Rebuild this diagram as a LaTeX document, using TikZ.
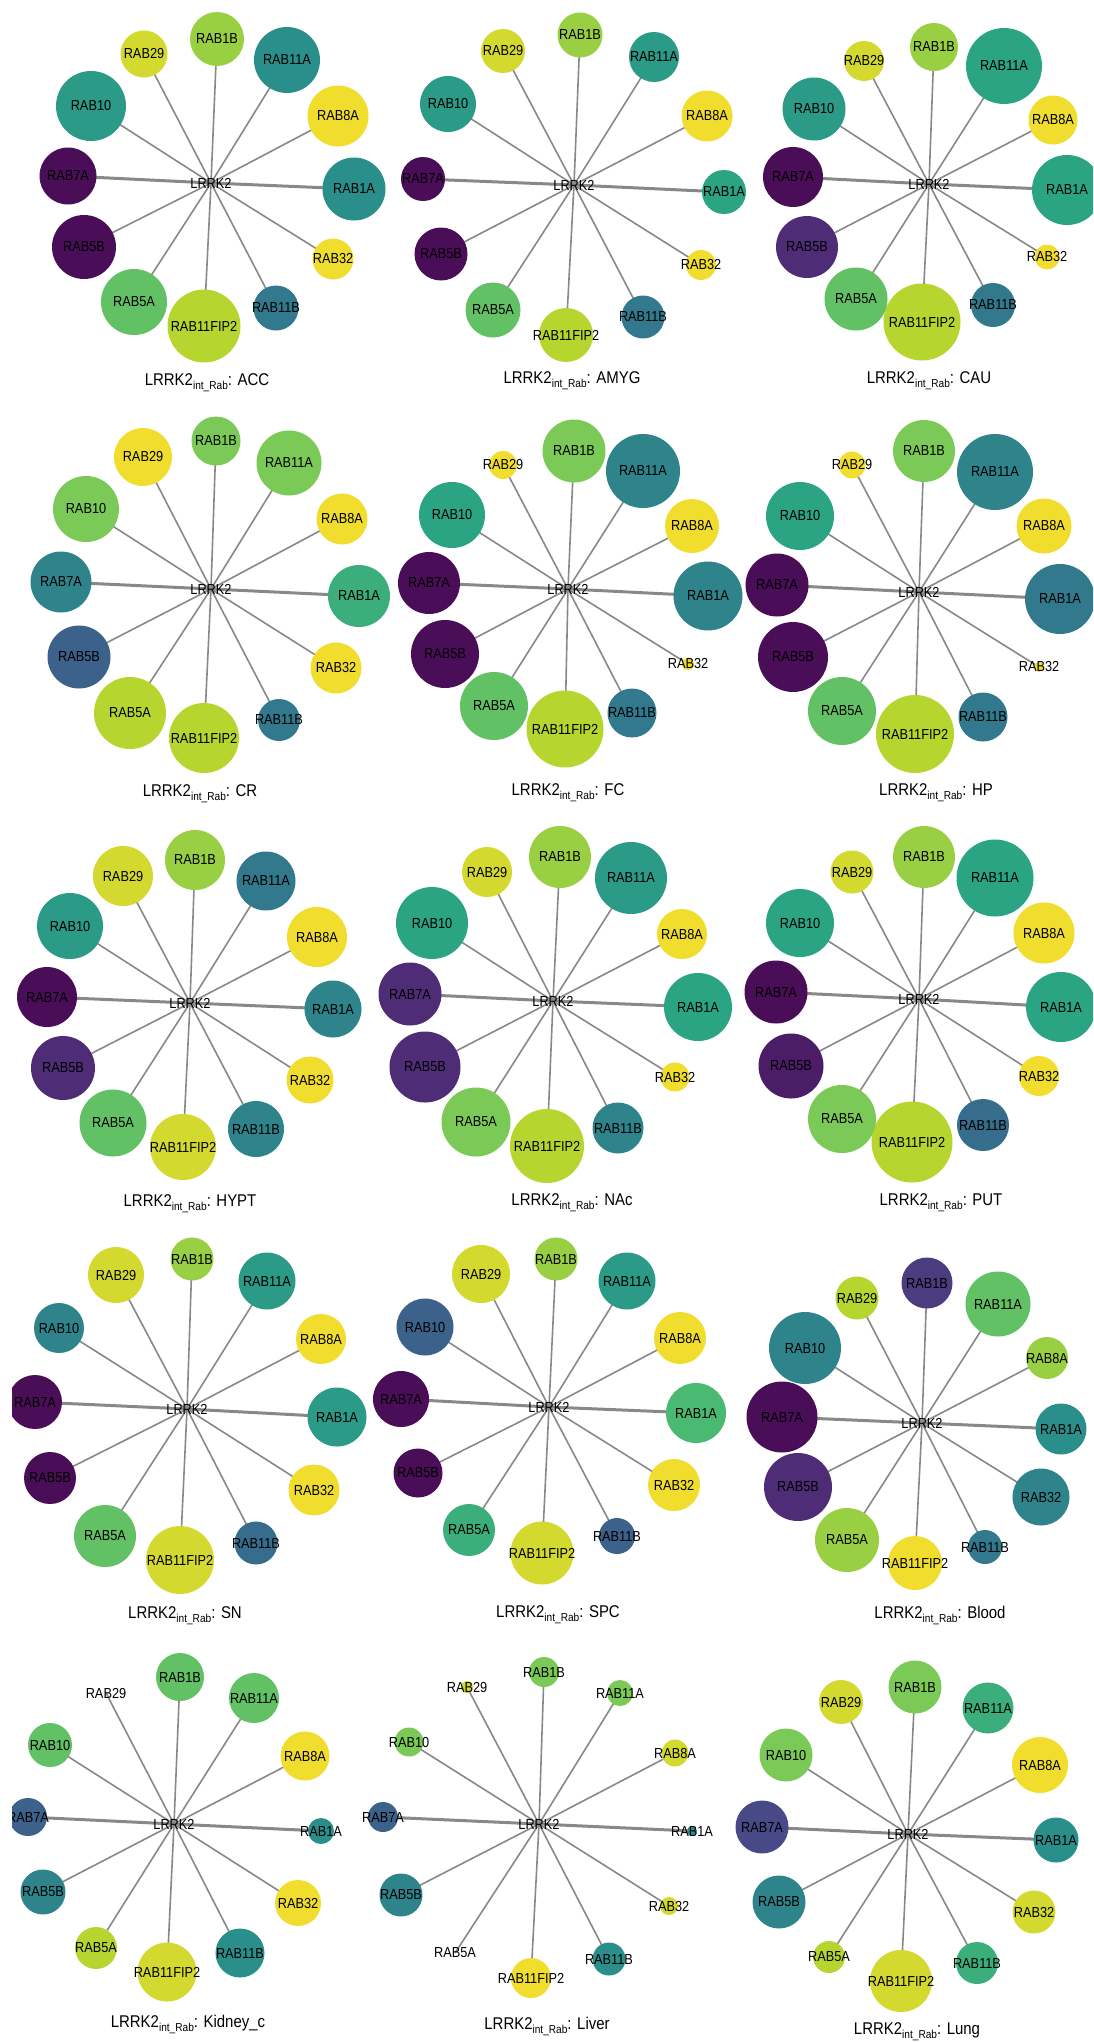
\documentclass[tikz,border=0pt]{standalone}
\usepackage{fontspec}
\setmainfont{Liberation Sans}[FakeStretch=0.88]
\usepackage{xcolor}
\usetikzlibrary{backgrounds}
% viridis stops
\definecolor{v0}{HTML}{440154}
\definecolor{v10}{HTML}{482475}
\definecolor{v20}{HTML}{414487}
\definecolor{v30}{HTML}{355F8D}
\definecolor{v40}{HTML}{2A788E}
\definecolor{v50}{HTML}{21918C}
\definecolor{v60}{HTML}{22A884}
\definecolor{v70}{HTML}{44BF70}
\definecolor{v80}{HTML}{7AD151}
\definecolor{v90}{HTML}{BDDF26}
\definecolor{v100}{HTML}{FDE725}
\colorlet{v5}{v0!50!v10}
\colorlet{v15}{v10!50!v20}
\colorlet{v35}{v30!50!v40}
\colorlet{v45}{v40!50!v50}
\colorlet{v55}{v50!50!v60}
\colorlet{v65}{v60!50!v70}
\colorlet{v75}{v70!50!v80}
\colorlet{v85}{v80!50!v90}
\colorlet{v95}{v90!50!v100}
\definecolor{linkgray}{HTML}{888888}
\tikzset{%
rab/.style={circle,inner sep=0pt,draw=none},
rabname/.style={inner sep=0pt,font=\fontsize{14.5}{15}\selectfont},
hub/.style={inner sep=0pt,font=\fontsize{14.5}{15}\selectfont},
link/.style={draw=linkgray},
tissue/.style={inner sep=1pt,font=\fontsize{17}{18}\selectfont}
}
% #1 id, #2 hub position, #3 caption position, #4 tissue, #5 partners
\newcommand{\starpanel}[5]{%
  \node[hub] (#1) at (#2) {LRRK2};
  \foreach \g/\px/\py/\d/\c/\w in {#5}{
    \node[rab,minimum size=\d pt,fill=\c!90!gray] (#1\g) at (\px,\py) {};
    \node[rabname] at (#1\g.center) {\g};
    \begin{pgfonlayer}{background}
      \draw[link,line width=\w pt] (#1.center) -- (#1\g.center);
    \end{pgfonlayer}
  }
  \node[tissue] (#1cap) at (#3) {LRRK2\raisebox{-4pt}{\fontsize{11.5}{12}\selectfont int\_Rab}: #4};
}

\begin{document}
\begin{tikzpicture}[x=1pt,y=-1pt]
  \useasboundingbox (0,0) rectangle (1093,2042);
  \clip (12,0) rectangle (1093,2042);

  \starpanel{acc}{211,183}{207,383}{ACC}{RAB29/144/54/47/v95/1.6, RAB1B/217/39/54/v85/1.6,
    RAB11A/287/60/66/v50/1.6, RAB8A/338/116/61/v100/1.6, RAB1A/354/189/63/v50/3,
    RAB32/333/259/41/v100/1.6, RAB11B/276/308/45/v40/1.6, RAB11FIP2/204/326/73/v90/1.6,
    RAB5A/134/302/66/v75/1.6, RAB5B/84/247/64/v0/1.6, RAB7A/68/176/57/v0/3,
    RAB10/91/106/70/v55/1.6}

  \starpanel{amyg}{574,185}{572,381}{AMYG}{RAB29/503/51/44/v95/1.6, RAB1B/580/35/45/v85/1.6,
    RAB11A/654/57/50/v55/1.6, RAB8A/707/116/51/v100/1.6, RAB1A/724/192/44/v60/3,
    RAB32/701/265/30/v100/1.6, RAB11B/643/317/43/v40/1.6, RAB11FIP2/566/335/54/v90/1.6,
    RAB5A/493/310/55/v75/1.6, RAB5B/441/254/53/v0/1.6, RAB7A/423/179/44/v0/3,
    RAB10/448/104/56/v55/1.6}

  \starpanel{cau}{929,184}{929,381}{CAU}{RAB29/864/61/40/v95/1.6, RAB1B/934/47/48/v85/1.6,
    RAB11A/1004/66/76/v60/1.6, RAB8A/1053/120/49/v100/1.6, RAB1A/1067/190/70/v60/3,
    RAB32/1047/257/25/v100/1.6, RAB11B/993/305/44/v40/1.6, RAB11FIP2/922/322/77/v90/1.6,
    RAB5A/856/299/63/v75/1.6, RAB5B/807/247/62/v10/1.6, RAB7A/793/177/60/v0/3,
    RAB10/814/109/63/v55/1.6}

  \starpanel{cr}{211,589}{200,794}{CR}{RAB29/143/457/58/v100/1.6, RAB1B/216/441/49/v80/1.6,
    RAB11A/289/463/65/v80/1.6, RAB8A/342/519/51/v100/1.6, RAB1A/359/596/62/v65/3,
    RAB32/336/668/51/v100/1.6, RAB11B/279/720/42/v40/1.6, RAB11FIP2/204/738/70/v90/1.6,
    RAB5A/130/713/72/v90/1.6, RAB5B/79/657/63/v30/1.6, RAB7A/61/582/61/v45/3,
    RAB10/86/509/66/v80/1.6}

  \starpanel{fc}{568,589}{568,793}{FC}{RAB29/503/465/28/v100/1.6, RAB1B/574/451/63/v80/1.6,
    RAB11A/643/471/74/v45/1.6, RAB8A/692/526/54/v100/1.6, RAB1A/708/596/69/v45/3,
    RAB32/688/664/12/v100/1.6, RAB11B/632/713/49/v40/1.6, RAB11FIP2/565/729/77/v90/1.6,
    RAB5A/494/706/68/v75/1.6, RAB5B/445/654/68/v0/1.6, RAB7A/429/583/62/v0/3,
    RAB10/452/515/66/v60/1.6}

  \starpanel{hp}{919,592}{936,793}{HP}{RAB29/852/465/27/v100/1.6, RAB1B/924/451/62/v80/1.6,
    RAB11A/995/472/76/v45/1.6, RAB8A/1044/526/55/v100/1.6, RAB1A/1060/599/70/v40/3,
    RAB32/1039/667/10/v100/1.6, RAB11B/983/717/49/v40/1.6, RAB11FIP2/915/734/78/v90/1.6,
    RAB5A/842/711/68/v75/1.6, RAB5B/793/657/70/v0/1.6, RAB7A/777/585/63/v0/3,
    RAB10/800/516/68/v60/1.6}

  \starpanel{hypt}{190,1003}{190,1204}{HYPT}{RAB29/123/876/60/v95/1.6, RAB1B/195/860/60/v85/1.6,
    RAB11A/266/881/59/v40/1.6, RAB8A/317/937/60/v100/1.6, RAB1A/333/1009/57/v45/3,
    RAB32/310/1080/47/v100/1.6, RAB11B/256/1129/56/v45/1.6, RAB11FIP2/183/1147/66/v95/1.6,
    RAB5A/113/1123/67/v75/1.6, RAB5B/63/1068/64/v10/1.6, RAB7A/47/997/60/v0/3,
    RAB10/70/926/66/v55/1.6}

  \starpanel{nac}{553,1001}{572,1203}{NAc}{RAB29/487/872/50/v95/1.6, RAB1B/560/857/62/v85/1.6,
    RAB11A/631/878/72/v55/1.6, RAB8A/682/934/50/v100/1.6, RAB1A/698/1007/68/v60/3,
    RAB32/675/1077/29/v100/1.6, RAB11B/618/1128/51/v45/1.6, RAB11FIP2/547/1146/74/v90/1.6,
    RAB5A/476/1122/69/v80/1.6, RAB5B/425/1067/71/v10/1.6, RAB7A/410/994/63/v10/3,
    RAB10/432/923/72/v60/1.6}

  \starpanel{put}{919,999}{941,1203}{PUT}{RAB29/852/872/43/v95/1.6, RAB1B/924/857/62/v85/1.6,
    RAB11A/995/878/77/v60/1.6, RAB8A/1044/933/61/v100/1.6, RAB1A/1061/1007/70/v60/3,
    RAB32/1039/1076/40/v100/1.6, RAB11B/983/1125/52/v35/1.6, RAB11FIP2/912/1142/81/v90/1.6,
    RAB5A/842/1119/68/v80/1.6, RAB5B/791/1066/65/v5/1.6, RAB7A/776/992/63/v0/3,
    RAB10/800/923/68/v60/1.6}

  \starpanel{sn}{187,1409}{185,1616}{SN}{RAB29/116/1275/56/v95/1.6, RAB1B/192/1259/43/v85/1.6,
    RAB11A/267/1281/57/v55/1.6, RAB8A/321/1339/50/v100/1.6, RAB1A/337/1417/59/v55/3,
    RAB32/314/1490/51/v100/1.6, RAB11B/256/1543/43/v35/1.6, RAB11FIP2/180/1560/68/v95/1.6,
    RAB5A/105/1536/62/v75/1.6, RAB5B/50/1478/52/v0/1.6, RAB7A/35/1402/54/v0/3,
    RAB10/59/1328/50/v45/1.6}

  \starpanel{spc}{549,1407}{558,1615}{SPC}{RAB29/481/1274/58/v95/1.6, RAB1B/556/1259/43/v85/1.6,
    RAB11A/627/1281/57/v55/1.6, RAB8A/680/1338/52/v100/1.6, RAB1A/696/1413/60/v70/3,
    RAB32/674/1485/52/v100/1.6, RAB11B/617/1536/36/v30/1.6, RAB11FIP2/542/1553/63/v95/1.6,
    RAB5A/469/1530/52/v65/1.6, RAB5B/418/1473/49/v0/1.6, RAB7A/401/1399/56/v0/3,
    RAB10/425/1327/57/v30/1.6}

  \starpanel{blood}{922,1423}{940,1615}{Blood}{RAB29/857/1298/43/v90/1.6, RAB1B/927/1283/51/v15/1.6,
    RAB11A/998/1304/65/v75/1.6, RAB8A/1047/1358/42/v85/1.6, RAB1A/1061/1429/51/v50/3,
    RAB32/1041/1497/57/v45/1.6, RAB11B/985/1547/34/v40/1.6, RAB11FIP2/915/1563/54/v100/1.6,
    RAB5A/847/1540/64/v85/1.6, RAB5B/798/1487/68/v10/1.6, RAB7A/782/1417/71/v0/3,
    RAB10/805/1348/72/v45/1.6}

  \starpanel{kid}{174,1824}{188,2024}{Kidney\_c}{RAB29/106/1693/0/white/1.6, RAB1B/180/1677/48/v75/1.6,
    RAB11A/254/1698/50/v75/1.6, RAB8A/305/1756/49/v100/1.6, RAB1A/321/1831/26/v50/3,
    RAB32/298/1903/46/v100/1.6, RAB11B/240/1953/49/v50/1.6, RAB11FIP2/167/1972/59/v95/1.6,
    RAB5A/96/1948/42/v90/1.6, RAB5B/43/1892/45/v45/1.6, RAB7A/28/1817/38/v30/3,
    RAB10/50/1745/44/v75/1.6}

  \starpanel{liv}{539,1824}{547,2026}{Liver}{RAB29/467/1687/12/v95/1.6, RAB1B/544/1672/30/v80/1.6,
    RAB11A/620/1693/26/v80/1.6, RAB8A/675/1753/27/v95/1.6, RAB1A/692/1831/10/v50/3,
    RAB32/669/1906/18/v95/1.6, RAB11B/609/1959/33/v50/1.6, RAB11FIP2/531/1978/40/v100/1.6,
    RAB5A/455/1953/0/white/1.6, RAB5B/401/1895/43/v45/1.6, RAB7A/383/1817/30/v30/3,
    RAB10/409/1742/29/v80/1.6}

  \starpanel{lung}{908,1834}{917,2032}{Lung}{RAB29/841/1702/44/v95/1.6, RAB1B/915/1687/53/v80/1.6,
    RAB11A/988/1708/51/v65/1.6, RAB8A/1040/1765/56/v100/1.6, RAB1A/1056/1840/45/v50/3,
    RAB32/1034/1912/43/v95/1.6, RAB11B/977/1963/42/v65/1.6, RAB11FIP2/901/1981/62/v95/1.6,
    RAB5A/829/1957/32/v90/1.6, RAB5B/779/1902/53/v45/1.6, RAB7A/762/1827/53/v20/3,
    RAB10/786/1755/53/v80/1.6}

\end{tikzpicture}
\end{document}
